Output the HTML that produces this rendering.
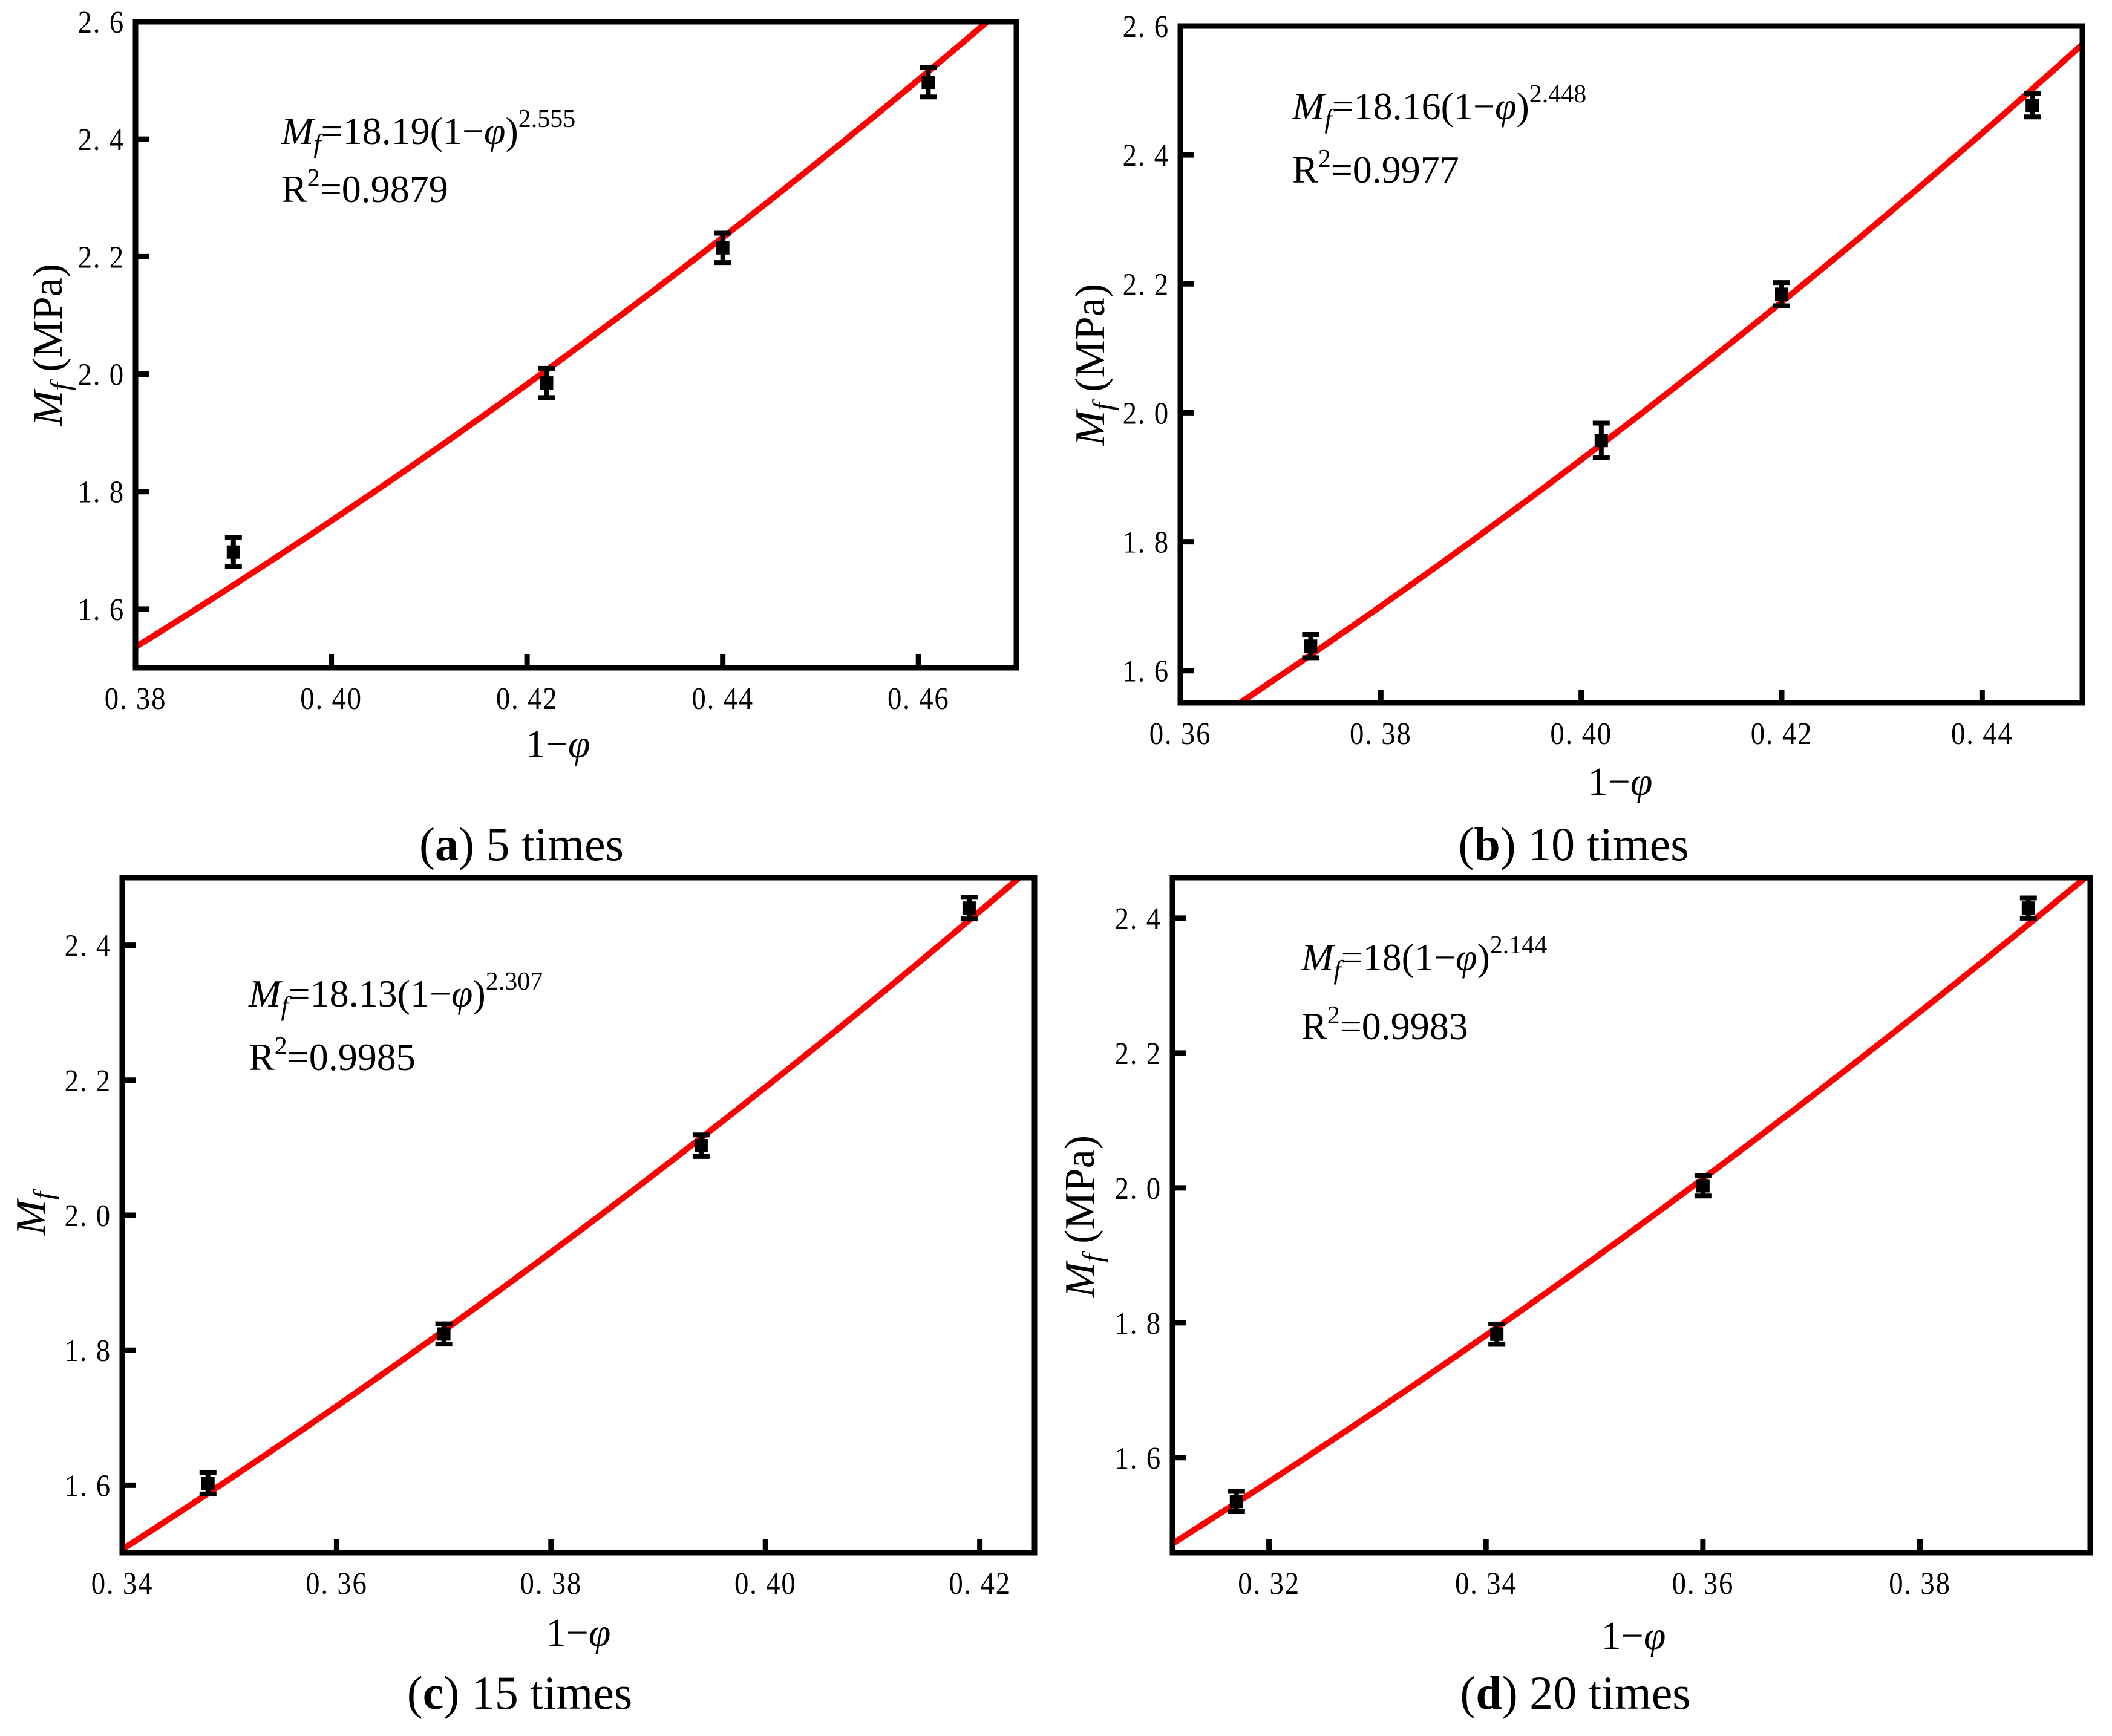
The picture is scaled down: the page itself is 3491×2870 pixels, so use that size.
<!DOCTYPE html>
<html><head><meta charset="utf-8">
<style>
html,body{margin:0;padding:0;background:#fff;}
svg{display:block;font-family:"Liberation Serif","Noto Serif CJK SC",serif;}
</style></head>
<body>
<svg id="fig" width="3491" height="2870" viewBox="0 0 3491 2870" xmlns="http://www.w3.org/2000/svg"></svg>
<script>
// Panel a: 5 times
const xA = [0.390, 0.422, 0.440, 0.461];
const yA = [1.697, 1.985, 2.215, 2.497];
const eA = [0.025, 0.025, 0.025, 0.025];
const fitA = [18.19, 2.555];
const xTicksA = [0.38, 0.40, 0.42, 0.44, 0.46];
const yTicksA = [1.6, 1.8, 2.0, 2.2, 2.4, 2.6];
// Panel b: 10 times
const xB = [0.373, 0.402, 0.420, 0.445];
const yB = [1.638, 1.957, 2.184, 2.477];
const eB = [0.018, 0.027, 0.018, 0.018];
const fitB = [18.16, 2.448];
const xTicksB = [0.36, 0.38, 0.40, 0.42, 0.44];
const yTicksB = [1.6, 1.8, 2.0, 2.2, 2.4, 2.6];
// Panel c: 15 times
const xC = [0.348, 0.370, 0.394, 0.419];
const yC = [1.603, 1.824, 2.103, 2.455];
const eC = [0.016, 0.015, 0.016, 0.016];
const fitC = [18.13, 2.307];
const xTicksC = [0.34, 0.36, 0.38, 0.40, 0.42];
const yTicksC = [1.6, 1.8, 2.0, 2.2, 2.4];
// Panel d: 20 times
const xD = [0.317, 0.341, 0.360, 0.390];
const yD = [1.535, 1.783, 2.003, 2.415];
const eD = [0.015, 0.015, 0.015, 0.015];
const fitD = [18.0, 2.144];
const xTicksD = [0.32, 0.34, 0.36, 0.38];
const yTicksD = [1.6, 1.8, 2.0, 2.2, 2.4];

const NS = "http://www.w3.org/2000/svg";
const svg = document.getElementById('fig');
function mk(tag, attrs, parent) {
  const el = document.createElementNS(NS, tag);
  for (const k in attrs) el.setAttribute(k, attrs[k]);
  (parent || svg).appendChild(el);
  return el;
}

const panels = [
  {id:'a', xs:xA, ys:yA, es:eA, fit:fitA, xt:xTicksA, yt:yTicksA, box:[224,36,1680,1104], xr:[0.38,0.47], yr:[1.5,2.6],
   eq:[465,238,334], cap:'5 times', capPos:[862,1422], xt_pos:[922,1252], yl:[78,570], ylab:'full'},
  {id:'b', xs:xB, ys:yB, es:eB, fit:fitB, xt:xTicksB, yt:yTicksB, box:[1951,43,3442,1162], xr:[0.36,0.45], yr:[1.55,2.6],
   eq:[2136,197,302], cap:'10 times', capPos:[2601,1422], xt_pos:[2678,1314], yl:[1801,603], ylab:'full'},
  {id:'c', xs:xC, ys:yC, es:eC, fit:fitC, xt:xTicksC, yt:yTicksC, box:[202,1451,1710,2567], xr:[0.34,0.4251], yr:[1.5,2.5],
   eq:[411,1664,1769], cap:'15 times', capPos:[859,2825], xt_pos:[956,2721], yl:[50,2006], ylab:'short'},
  {id:'d', xs:xD, ys:yD, es:eD, fit:fitD, xt:xTicksD, yt:yTicksD, box:[1938,1451,3455,2567], xr:[0.3111,0.3957], yr:[1.459,2.46],
   eq:[2151,1604,1718], cap:'20 times', capPos:[2604,2825], xt_pos:[2700,2726], yl:[1784,2011], ylab:'full'}
];

panels.forEach(p => {
  const [L,T,R,B] = p.box;
  const sx = v => L + (v - p.xr[0]) / (p.xr[1] - p.xr[0]) * (R - L);
  const sy = v => B - (v - p.yr[0]) / (p.yr[1] - p.yr[0]) * (B - T);
  const g = mk('g', {});
  
  

  const clip = mk('clipPath', {id:'clip'+p.id}, g);
  mk('rect', {x:L, y:T, width:R-L, height:B-T}, clip);

  p.xt.forEach(v => {
    const x = sx(v);
    if (x > L + 5 && x < R - 5) {
      const t = mk('line', {x1:x, y1:B, x2:x, y2:B-22, stroke:'#000', 'stroke-width':9}, g);
      
      
    }
    const lb = mk('text', {x:0, y:0, 'text-anchor':'middle', 'font-size':52, 'letter-spacing':2, fill:'#000', transform:`translate(${x},${B+68}) scale(0.9,1)`}, g);
    
    
    lb.textContent = v.toFixed(2).replace('.', '. ');
  });
  p.yt.forEach(v => {
    const y = sy(v);
    if (y > T + 5 && y < B - 5) {
      const t = mk('line', {x1:L, y1:y, x2:L+22, y2:y, stroke:'#000', 'stroke-width':9}, g);
      
      
    }
    const lb = mk('text', {x:0, y:0, 'text-anchor':'end', 'font-size':52, 'letter-spacing':2, fill:'#000', transform:`translate(${L-18},${y+18}) scale(0.9,1)`}, g);
    
    
    lb.textContent = v.toFixed(1).replace('.', '. ');
  });

  let d = '';
  const N = 120;
  for (let i = 0; i <= N; i++) {
    const xv = p.xr[0] + (p.xr[1] - p.xr[0]) * i / N;
    const yv = p.fit[0] * Math.pow(xv, p.fit[1]);
    d += (i ? 'L' : 'M') + sx(xv).toFixed(1) + ' ' + sy(yv).toFixed(1);
  }
  const curve = mk('path', {d:d, fill:'none', stroke:'#ff0000', 'stroke-width':10, 'clip-path':'url(#clip'+p.id+')'}, g);
  
  

  p.xs.forEach((xv, i) => {
    const cx = sx(xv), cy = sy(p.ys[i]);
    const yt = sy(p.ys[i] + p.es[i]), yb = sy(p.ys[i] - p.es[i]);
    const eb = mk('path', {d:`M${cx} ${yt}L${cx} ${yb}M${cx-14} ${yt}L${cx+14} ${yt}M${cx-14} ${yb}L${cx+14} ${yb}`, stroke:'#000', 'stroke-width':8, fill:'none'}, g);
    
    
    const pt = mk('rect', {x:cx-11, y:cy-11, width:22, height:22, fill:'#000'}, g);
    
    
  });

  const fr = mk('rect', {x:L, y:T, width:R-L, height:B-T, fill:'none', stroke:'#000', 'stroke-width':9}, g);
  
  

  const eq = mk('text', {x:p.eq[0], y:p.eq[1], 'font-size':64, fill:'#000'}, g);
  
  
  eq.innerHTML = '<tspan font-style="italic">M</tspan><tspan font-style="italic" font-size="44" dy="14">f</tspan><tspan dy="-14">=' + p.fit[0].toString().replace(/\.0$/,'') + '(1−</tspan><tspan font-style="italic">φ</tspan><tspan>)</tspan><tspan font-size="42" dy="-28">' + p.fit[1].toFixed(3) + '</tspan>';
  const r2 = {a:'0.9879', b:'0.9977', c:'0.9985', d:'0.9983'}[p.id];
  const rt = mk('text', {x:p.eq[0], y:p.eq[2], 'font-size':64, fill:'#000'}, g);
  
  
  rt.innerHTML = 'R<tspan font-size="42" dy="-26">2</tspan><tspan dy="26">=' + r2 + '</tspan>';

  const xt = mk('text', {x:p.xt_pos[0], y:p.xt_pos[1], 'text-anchor':'middle', 'font-size':66, fill:'#000'}, g);
  
  
  xt.innerHTML = '1−<tspan font-style="italic">φ</tspan>';

  const yl = mk('text', {x:0, y:0, 'text-anchor':'middle', 'font-size':70, fill:'#000', transform:`translate(${p.yl[0]+24},${p.yl[1]}) rotate(-90)`}, g);
  
  
  yl.innerHTML = '<tspan font-style="italic">M</tspan><tspan font-style="italic" font-size="48" dy="14">f</tspan>' + (p.ylab === 'full' ? '<tspan dy="-14"> (MPa)</tspan>' : '');

  const cp = mk('text', {x:p.capPos[0], y:p.capPos[1], 'text-anchor':'middle', 'font-size':78, fill:'#000'}, g);
  
  
  cp.innerHTML = '(<tspan font-weight="bold">' + p.id + '</tspan>) ' + p.cap;
});
</script>
</body></html>
